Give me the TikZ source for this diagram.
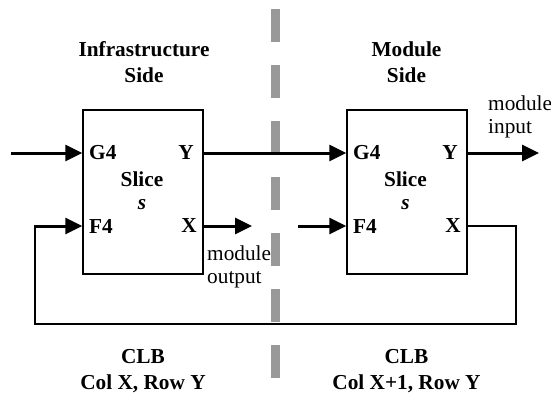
\documentclass[tikz,border=0pt]{standalone}
\usepackage{fontspec}
\setmainfont{Liberation Serif}
\usetikzlibrary{arrows.meta}
\definecolor{divgray}{HTML}{999999}
\begin{document}
\begin{tikzpicture}[x=1pt,y=-1pt,
  lbl/.style={font=\fontsize{21.3}{26.5}\selectfont\bfseries, inner sep=0pt, align=center},
  plain/.style={font=\fontsize{21.3}{23}\selectfont, inner sep=0pt, align=left},
  slicebox/.style={draw, line width=1.5pt, minimum width=120pt, minimum height=164pt, inner sep=0pt},
  sig/.style={line width=3pt, -{Triangle[length=17pt,width=16pt]}},
  wire/.style={line width=1.5pt},
  divider/.style={draw=divgray, line width=9pt, dash pattern=on 33pt off 23pt}]
\useasboundingbox (0,0) rectangle (551,394);
% divider
\coordinate (dtop) at (275.5,9);
\coordinate (dbot) at (275.5,379);
\draw[divider] (dtop) -- (dbot);
% boxes
\node[slicebox] (A) at (143,192) {};
\node[slicebox] (B) at (407,192) {};
% headings
\node[lbl] (hL) at (144,62) {Infrastructure\\Side};
\node[lbl] (hR) at (406.5,62) {Module\\Side};
\node[lbl] (fL) at (143,371) {CLB\\Col X, Row Y};
\node[lbl] (fR) at (406.5,371) {CLB\\Col X+1, Row Y};
% box contents
\node[lbl, anchor=west] (gA) at (89,153) {G4};
\node[lbl, anchor=west] (fA) at (89,226) {F4};
\node[lbl, anchor=east] (yA) at (194,153) {Y};
\node[lbl, anchor=east] (xA) at (197,226) {X};
\node[lbl] (sA) at (142,179) {Slice};
\node[lbl] (iA) at (142,205) {\itshape s};
\node[lbl, anchor=west] (gB) at (353,153) {G4};
\node[lbl, anchor=west] (fB) at (353,226) {F4};
\node[lbl, anchor=east] (yB) at (458,153) {Y};
\node[lbl, anchor=east] (xB) at (461,226) {X};
\node[lbl] (sB) at (405.5,179) {Slice};
\node[lbl] (iB) at (405.5,205) {\itshape s};
% side labels
\node[plain, anchor=west] (mo) at (207,266.5) {module\\output};
\node[plain, anchor=west] (mi) at (488,116.5) {module\\input};
% connectors
\coordinate (inL) at (11,153);
\coordinate (outL) at (252,226);
\coordinate (inR) at (298,226);
\coordinate (outR) at (539,153);
\coordinate (loopR) at (516,324);
\coordinate (loopL) at (35,324);
\draw[sig] (inL) -- (inL -| A.west);
\draw[sig] (A.east |- inL) -- (B.west |- inL);
\draw[sig] (B.east |- outR) -- (outR);
\draw[sig] (A.east |- outL) -- (outL);
\draw[sig] (inR) -- (inR -| B.west);
\draw[wire] (B.east |- inR) -- (loopR |- inR) -- (loopR) -- (loopL) -- (loopL |- inR);
\draw[sig] ([xshift=-0.75pt]loopL |- inR) -- (A.west |- inR);
\end{tikzpicture}
\end{document}
